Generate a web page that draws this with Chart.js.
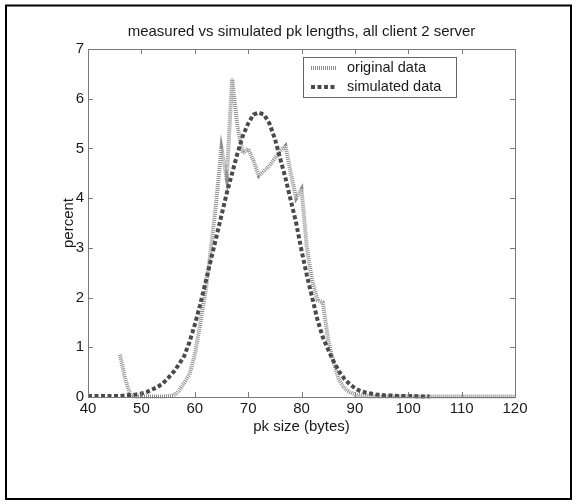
<!DOCTYPE html>
<html>
<head>
<meta charset="utf-8">
<title>measured vs simulated pk lengths</title>
<script src="https://cdn.jsdelivr.net/npm/chart.js@4"></script>
<style>
  html, body { margin: 0; padding: 0; background: #fff; }
  canvas { display: block; }
</style>
</head>
<body>
<canvas id="chart" width="576" height="504"></canvas>
<script>
// pk size (bytes), one bin per byte
const sizes = [
  40, 41, 42, 43, 44, 45, 46, 47, 48, 49,
  50, 51, 52, 53, 54, 55, 56, 57, 58, 59,
  60, 61, 62, 63, 64, 65, 66, 67, 68, 69,
  70, 71, 72, 73, 74, 75, 76, 77, 78, 79,
  80, 81, 82, 83, 84, 85, 86, 87, 88, 89,
  90, 91, 92, 93, 94, 95, 96, 97, 98, 99,
  100, 101, 102, 103, 104, 105, 106, 107, 108, 109,
  110, 111, 112, 113, 114, 115, 116, 117, 118, 119,
  120
];

// percent, measured
const originalData = [
  null, null, null, null, null, null, 0.85, 0.35, 0.02, 0.01,
  0.01, 0.01, 0.01, 0.01, 0.01, 0.02, 0.03, 0.12, 0.28, 0.45,
  0.85, 1.45, 2.1, 2.95, 3.9, 5.0, 4.4, 6.4, 5.45, 4.9,
  5.0, 4.75, 4.45, 4.55, 4.65, 4.8, 4.95, 5.05, 4.5, 4.0,
  4.18, 3.0, 2.35, 1.95, 1.9, 1.15, 0.7, 0.35, 0.18, 0.1,
  0.05, 0.03, 0.02, 0.01, 0.01, 0.01, 0.01, 0.01, 0.01, 0.01,
  0.01, 0.01, 0.01, 0.01, 0.01, 0.01, 0.01, 0.01, 0.01, 0.01,
  0.01, 0.01, 0.01, 0.01, 0.01, 0.01, 0.01, 0.01, 0.01, 0.01,
  0.01
];

// percent, simulated
const simulatedData = [
  0.02, 0.02, 0.02, 0.02, 0.02, 0.02, 0.02, 0.03, 0.04, 0.05,
  0.07, 0.1, 0.15, 0.2, 0.27, 0.38, 0.5, 0.65, 0.82, 1.1,
  1.45, 1.85, 2.3, 2.75, 3.2, 3.65, 4.1, 4.5, 4.9, 5.25,
  5.5, 5.68, 5.72, 5.68, 5.5, 5.2, 4.8, 4.4, 3.95, 3.5,
  2.95, 2.45, 2.0, 1.55, 1.2, 0.95, 0.72, 0.52, 0.37, 0.26,
  0.18, 0.12, 0.09, 0.07, 0.05, 0.04, 0.03, 0.03, 0.02, 0.02,
  0.02, 0.02, 0.01, 0.01, 0.01, null, null, null, null, null,
  null, null, null, null, null, null, null, null, null, null,
  null
];

const TITLE = "measured vs simulated pk lengths, all client 2 server";
const X_LABEL = "pk size (bytes)";
const Y_LABEL = "percent";
const LEGEND_LABELS = ["original data", "simulated data"];

const FONT = '"Liberation Sans", Arial, Helvetica, sans-serif';
const TEXT = "#1a1a1a";
const AXIS = "#7a7a7a";

const ORIG_STYLE = { color: "#8e8e8e", width: 4, dash: [1, 1] };
const SIM_STYLE = { color: "#4a4a4a", width: 4, dash: [4, 2.5] };

const points = (ys) => sizes.map((x, i) => ({ x, y: ys[i] }));

// white page + outer frame, title, box with inward ticks, legend
const decor = {
  id: "decor",
  beforeDraw(chart) {
    const ctx = chart.ctx;
    ctx.save();
    ctx.fillStyle = "#fff";
    ctx.fillRect(0, 0, chart.width, chart.height);
    ctx.restore();
  },
  afterDatasetsDraw(chart) {
    const { ctx, chartArea: a, scales } = chart;
    ctx.save();
    ctx.strokeStyle = AXIS;
    ctx.lineWidth = 1;
    ctx.strokeRect(Math.round(a.left) + 0.5, Math.round(a.top) + 0.5,
      Math.round(a.right - a.left), Math.round(a.bottom - a.top));
    const tl = 5;
    ctx.beginPath();
    scales.x.ticks.forEach((t) => {
      const px = Math.round(scales.x.getPixelForValue(t.value)) + 0.5;
      ctx.moveTo(px, a.bottom); ctx.lineTo(px, a.bottom - tl);
      ctx.moveTo(px, a.top); ctx.lineTo(px, a.top + tl);
    });
    scales.y.ticks.forEach((t) => {
      const py = Math.round(scales.y.getPixelForValue(t.value)) + 0.5;
      ctx.moveTo(a.left, py); ctx.lineTo(a.left + tl, py);
      ctx.moveTo(a.right, py); ctx.lineTo(a.right - tl, py);
    });
    ctx.stroke();
    ctx.restore();
  },
  afterDraw(chart) {
    const { ctx, chartArea: a } = chart;
    ctx.save();
    // title
    ctx.fillStyle = TEXT;
    ctx.font = `15px ${FONT}`;
    ctx.textAlign = "center";
    ctx.textBaseline = "middle";
    ctx.fillText(TITLE, (a.left + a.right) / 2, 32);

    // legend box (top right inside plot)
    const bx = 303, by = 57, bw = 153, bh = 40;
    ctx.fillStyle = "#fff";
    ctx.fillRect(bx, by, bw, bh);
    ctx.strokeStyle = "#666";
    ctx.lineWidth = 1;
    ctx.strokeRect(bx + 0.5, by + 0.5, bw, bh);
    const styles = [ORIG_STYLE, SIM_STYLE];
    const rows = [68, 87];
    styles.forEach((s, i) => {
      ctx.beginPath();
      ctx.strokeStyle = s.color;
      ctx.lineWidth = s.width;
      ctx.setLineDash(s.dash);
      ctx.moveTo(311, rows[i]);
      ctx.lineTo(337, rows[i]);
      ctx.stroke();
      ctx.setLineDash([]);
      ctx.fillStyle = TEXT;
      ctx.font = `14.5px ${FONT}`;
      ctx.textAlign = "left";
      ctx.textBaseline = "middle";
      ctx.fillText(LEGEND_LABELS[i], 347, rows[i]);
    });

    // outer frame
    ctx.strokeStyle = "#000";
    ctx.lineWidth = 2;
    ctx.strokeRect(6, 5.5, 565, 493.5);
    ctx.restore();
  },
};

new Chart(document.getElementById("chart"), {
  type: "line",
  data: {
    datasets: [
      {
        label: LEGEND_LABELS[0],
        data: points(originalData),
        borderColor: ORIG_STYLE.color,
        borderWidth: ORIG_STYLE.width,
        borderDash: ORIG_STYLE.dash,
        pointRadius: 0,
        tension: 0,
        fill: false,
        order: 1,
        clip: 6,
      },
      {
        label: LEGEND_LABELS[1],
        data: points(simulatedData),
        borderColor: SIM_STYLE.color,
        borderWidth: SIM_STYLE.width,
        borderDash: SIM_STYLE.dash,
        pointRadius: 0,
        tension: 0,
        fill: false,
        order: 0,
        clip: 6,
      },
    ],
  },
  options: {
    responsive: false,
    devicePixelRatio: 1,
    animation: false,
    events: [],
    layout: { padding: { left: 0, top: 49, right: 61, bottom: 0 } },
    plugins: {
      legend: { display: false },
      title: { display: false },
      tooltip: { enabled: false },
    },
    scales: {
      x: {
        type: "linear",
        min: 40,
        max: 120,
        grid: { display: false, drawTicks: false },
        border: { display: false },
        ticks: {
          stepSize: 10,
          padding: 3,
          color: TEXT,
          font: { family: FONT, size: 15 },
          maxRotation: 0,
        },
        title: {
          display: true,
          text: X_LABEL,
          color: TEXT,
          font: { family: FONT, size: 15 },
          padding: { top: 0, bottom: 68 },
        },
        afterFit: (s) => { s.height = 107; },
      },
      y: {
        min: 0,
        max: 7,
        grid: { display: false, drawTicks: false },
        border: { display: false },
        ticks: {
          stepSize: 1,
          padding: 4,
          color: TEXT,
          font: { family: FONT, size: 15 },
        },
        title: {
          display: true,
          text: Y_LABEL,
          color: TEXT,
          font: { family: FONT, size: 15 },
          padding: { top: 60, bottom: 0 },
        },
        afterFit: (s) => { s.width = 88; },
      },
    },
  },
  plugins: [decor],
});
</script>
</body>
</html>
